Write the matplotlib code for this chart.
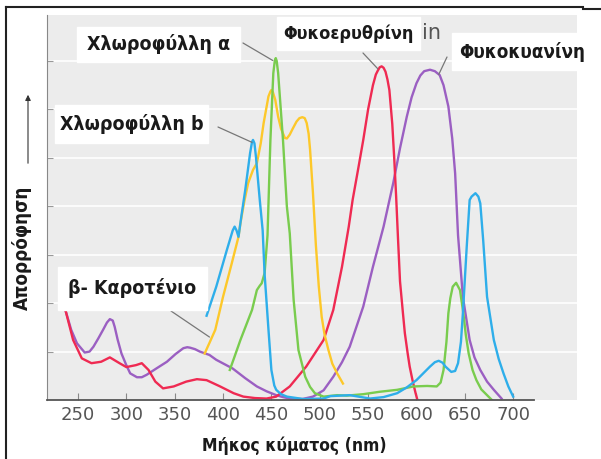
import matplotlib.pyplot as plt
from matplotlib.patches import Rectangle

# absorption spectra (wavelength in nm, relative absorbance)
red_nm = [235, 237, 245, 254, 264, 274, 283, 293, 300, 310, 316, 323, 330, 338, 349, 362, 373, 383, 397, 411,
          421, 433, 445, 455, 469, 486, 504, 514, 523, 530, 534, 540, 545, 550, 555, 558, 560, 562, 564, 566,
          568, 570, 572, 575, 577, 579, 581, 583, 586, 588, 591, 593, 596, 599, 601]
red_y = [2.3, 1.86, 1.24, 0.86, 0.76, 0.79, 0.88, 0.76, 0.68, 0.72, 0.76, 0.62, 0.38, 0.24, 0.28, 0.38, 0.43, 0.41, 0.28, 0.14,
         0.07, 0.04, 0.03, 0.07, 0.28, 0.69, 1.24, 1.86, 2.75, 3.58, 4.13, 4.8, 5.37, 6.0, 6.5, 6.72, 6.8, 6.87, 6.89, 6.86,
         6.78, 6.62, 6.4, 5.7, 5.0, 4.2, 3.3, 2.45, 1.8, 1.38, 0.95, 0.69, 0.4, 0.15, 0.0]

purple_nm = [235, 237, 243, 249, 257, 262, 266, 271, 276, 280, 283, 286, 288, 291, 295, 300, 304, 311, 316, 321,
             331, 342, 351, 359, 363, 366, 371, 376, 386, 393, 410, 423, 435, 445, 455, 462, 469, 482, 493, 504,
             514, 523, 531, 545, 555, 566, 576, 583, 590, 595, 600, 604, 608, 614, 619, 624, 628, 633, 637, 640,
             643, 648, 655, 660, 666, 673, 680, 688]
purple_y = [2.3, 1.86, 1.45, 1.17, 0.98, 1.0, 1.1, 1.27, 1.45, 1.6, 1.67, 1.64, 1.51, 1.25, 0.96, 0.72, 0.55, 0.47, 0.47, 0.52,
            0.65, 0.79, 0.95, 1.07, 1.09, 1.08, 1.05, 1.0, 0.93, 0.83, 0.65, 0.45, 0.28, 0.18, 0.10, 0.06, 0.03, 0.02, 0.07, 0.2,
            0.48, 0.78, 1.1, 1.93, 2.75, 3.58, 4.48, 5.2, 5.85, 6.25, 6.54, 6.7, 6.79, 6.82, 6.79, 6.71, 6.5, 6.06, 5.4, 4.68,
            3.4, 2.13, 1.24, 0.88, 0.62, 0.38, 0.21, 0.03]

blue_nm = [383, 393, 404, 410, 412, 414, 416, 419, 423, 428, 430, 431, 432.5, 434, 438, 441, 443, 447, 450, 453,
           455, 460, 466, 483, 504, 511, 531, 552, 566, 580, 590, 600, 607, 614, 619, 623, 627, 630, 636, 640,
           643, 646, 648, 652, 655, 657, 661, 664, 666, 669, 673, 680, 685, 690, 695, 700]
blue_y = [1.74, 2.34, 3.1, 3.5, 3.58, 3.5, 3.37, 3.8, 4.34, 5.1, 5.33, 5.37, 5.3, 5.03, 4.13, 3.5, 2.6, 1.45, 0.62, 0.3,
          0.21, 0.12, 0.07, 0.02, 0.03, 0.08, 0.1, 0.03, 0.06, 0.14, 0.26, 0.41, 0.55, 0.69, 0.78, 0.81, 0.77, 0.69, 0.58, 0.6,
          0.76, 1.2, 1.79, 3.17, 4.13, 4.2, 4.27, 4.2, 4.06, 3.3, 2.13, 1.24, 0.85, 0.55, 0.28, 0.07]

green_nm = [407, 412, 418, 424, 430, 435, 438, 440, 443, 446, 449, 451, 452, 453.5, 454.5, 455.5, 457, 459, 462, 466,
            469, 473, 478, 485, 490, 495, 504, 518, 528, 545, 562, 580, 597, 611, 621, 625, 628, 631, 633, 635,
            637.5, 641, 645, 648.5, 651, 654, 658, 662, 667, 673, 678]
green_y = [0.62, 0.9, 1.24, 1.55, 1.86, 2.27, 2.36, 2.41, 2.62, 3.4, 5.37, 6.3, 6.75, 7.0, 7.06, 7.0, 6.75, 6.2, 5.37, 4.0,
           3.44, 2.07, 1.03, 0.48, 0.27, 0.14, 0.07, 0.1, 0.09, 0.12, 0.17, 0.21, 0.28, 0.29, 0.28, 0.36, 0.62, 1.2, 1.79, 2.1,
           2.34, 2.42, 2.27, 1.79, 1.35, 0.96, 0.62, 0.41, 0.22, 0.1, 0.0]

yellow_nm = [381, 386, 392, 400, 409, 416, 418, 422, 426, 431, 435, 439, 442, 445, 447, 449, 450, 451.5, 454, 457,
             460, 464, 466, 469, 472, 476, 479, 482, 484.5, 486.5, 488.5, 490, 493, 496, 499, 502, 505, 509, 513, 518,
             524]
yellow_y = [0.96, 1.18, 1.45, 2.13, 2.82, 3.37, 3.65, 4.1, 4.48, 4.75, 4.89, 5.3, 5.72, 6.05, 6.27, 6.37, 6.4, 6.36, 6.2, 5.85,
            5.6, 5.41, 5.4, 5.48, 5.6, 5.75, 5.82, 5.84, 5.82, 5.72, 5.5, 5.17, 4.27, 3.2, 2.35, 1.72, 1.35, 1.03, 0.75, 0.55,
            0.34]

xticks = [250, 300, 350, 400, 450, 500, 550, 600, 650, 700]

W, H = 601, 459
fig = plt.figure(figsize=(W / 100, H / 100), dpi=100)
ax = fig.add_axes([47 / W, 1 - 400 / H, 530 / W, 385 / H])
ax.set_facecolor('#ececec')
ax.set_xlim(218, 766)
ax.set_ylim(0, 7.95)

lw = 1.7
ax.plot(purple_nm, purple_y, color='#9b5fc2', lw=lw, zorder=3)
ax.plot(red_nm, red_y, color='#ef2a52', lw=lw, zorder=3)
ax.plot(yellow_nm, yellow_y, color='#fdc82a', lw=lw, zorder=3)
ax.plot(green_nm, green_y, color='#79cc4e', lw=lw, zorder=3)
ax.plot(blue_nm, blue_y, color='#2eaeea', lw=lw, zorder=3)

# axis line only under the data range
ax.plot([218, 722], [0, 0], color='#555555', lw=1.3, zorder=4, clip_on=False)

ax.set_xticks(xticks)
ax.set_yticks(range(1, 8))
ax.set_yticklabels([])
ax.tick_params(axis='x', direction='in', length=5, color='#888888', labelsize=13,
               labelcolor='#555555', pad=4)
ax.tick_params(axis='y', direction='in', length=4, color='#999999')
ax.grid(axis='y', color='white', lw=1.2)
for s in ['top', 'right', 'bottom']:
    ax.spines[s].set_visible(False)
ax.spines['left'].set_color('#888888')
ax.spines['left'].set_linestyle((0, (1, 1)))


def px(x, y):
    return x / W, 1 - y / H


def label(x0, y0, x1, y1, text, size=14):
    fig.add_artist(Rectangle(px(x0, y1), (x1 - x0) / W, (y1 - y0) / H,
                             transform=fig.transFigure, color='white', zorder=5))
    fig.text(*px((x0 + x1) / 2, (y0 + y1) / 2), text, ha='center', va='center',
             fontsize=size, fontweight='bold', fontstretch='condensed', family='DejaVu Sans',
             color='#1a1a1a', zorder=6)


label(77, 27, 240, 62, 'Χλωροφύλλη α')
label(55, 105, 208, 143, 'Χλωροφύλλη b')
label(277, 17, 420, 50, 'Φυκοερυθρίνη', 13)
label(452, 33, 592, 70, 'Φυκοκυανίνη', 13.5)
label(58, 267, 207, 310, 'β- Καροτένιο')
fig.text(*px(431, 33), 'in', ha='center', va='center', fontsize=15, color='#555555', zorder=6)

# pointer lines from the labels to the peaks
conn = dict(arrowstyle='-', color='#777777', lw=0.9, shrinkA=0, shrinkB=0)
i = green_y.index(max(green_y))
ax.annotate('', xy=(green_nm[i] - 3, green_y[i] - 0.05), xytext=(243, H - 43),
            textcoords='figure pixels', arrowprops=conn)
i = blue_y.index(max(blue_y))
ax.annotate('', xy=(blue_nm[i] - 1, blue_y[i] - 0.05), xytext=(218, H - 127),
            textcoords='figure pixels', arrowprops=conn)
i = red_y.index(max(red_y))
ax.annotate('', xy=(red_nm[i] - 4, red_y[i] - 0.05), xytext=(363, H - 53),
            textcoords='figure pixels', arrowprops=conn)
i = purple_y.index(max(purple_y))
ax.annotate('', xy=(purple_nm[i] + 9, purple_y[i] - 0.1), xytext=(447, H - 57),
            textcoords='figure pixels', arrowprops=conn)
ax.annotate('', xy=(386, 1.3), xytext=(171, H - 311),
            textcoords='figure pixels', arrowprops=conn)

# axis titles
fig.text(*px(294, 446), 'Μήκος κύματος (nm)', ha='center', va='center',
         fontsize=12.5, fontweight='bold', fontstretch='condensed', family='DejaVu Sans', color='#1a1a1a')
fig.text(*px(22, 248), 'Απορρόφηση', ha='center', va='center', rotation=90,
         fontsize=13.5, fontweight='bold', fontstretch='condensed', family='DejaVu Sans', color='#1a1a1a')
ax.annotate('', xy=(28, H - 92), xytext=(28, H - 166), xycoords='figure pixels',
            textcoords='figure pixels',
            arrowprops=dict(arrowstyle='-|>', color='#333333', lw=0.8, mutation_scale=8))

# frame
fig.add_artist(plt.Line2D([6 / W, 583 / W], [1 - 7 / H, 1 - 7 / H], color='#222222', lw=1.5,
                          transform=fig.transFigure))
fig.add_artist(plt.Line2D([583 / W, 1], [1 - 9 / H, 1 - 9 / H], color='#222222', lw=1.5,
                          transform=fig.transFigure))
fig.add_artist(plt.Line2D([6 / W, 6 / W], [0, 1 - 7 / H], color='#222222', lw=1.5,
                          transform=fig.transFigure))

fig.savefig('out.png', dpi=100)
